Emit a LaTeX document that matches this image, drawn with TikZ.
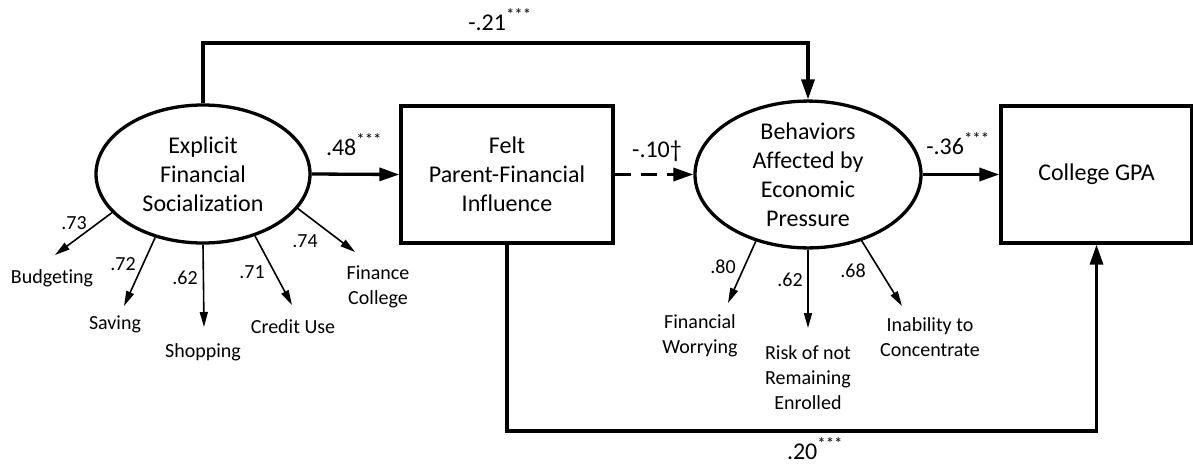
\documentclass[tikz,border=0pt]{standalone}
\usepackage{fontspec}
\setmainfont{Carlito}[Ligatures={NoCommon}]
\usetikzlibrary{arrows.meta,shapes.geometric}
\begin{document}
\begin{tikzpicture}[x=1pt,y=-1pt,
 latent/.style={draw,ellipse,line width=3.3pt,minimum width=214pt,minimum height=138pt,inner sep=0pt,align=center,font=\fontsize{24}{29}\selectfont},
 observed/.style={draw,rectangle,line width=3.3pt,minimum height=137pt,inner sep=0pt,align=center,font=\fontsize{24}{29}\selectfont},
 main/.style={line width=3.3pt,-{Triangle[length=20pt,width=13pt]}},
 ind/.style={line width=1.6pt,-{Triangle[length=15pt,width=8pt]}},
 coef/.style={font=\fontsize{24}{29}\selectfont,inner sep=0pt,anchor=base},
 small/.style={font=\fontsize{20}{25}\selectfont,inner sep=0pt,align=center},
]
\useasboundingbox (0,0) rectangle (1193,466);
% main constructs
\node[latent] (e1) at (203,174) {Explicit\\Financial\\Socialization};
\node[observed,minimum width=212pt] (b1) at (507,174.5) {Felt\\Parent-Financial\\Influence};
\node[latent,minimum width=226pt] (e2) at (808,174.5) {Behaviors\\Affected by\\Economic\\Pressure};
\node[observed,minimum width=191pt] (b2) at (1096.5,174.5) {College GPA};
% structural paths
\coordinate (top) at (500,43);
\coordinate (bot) at (800,431);
\draw[main] (e1.north) |- (top) -| (e2.north);
\draw[main] (e1.east) -- (b1.west);
\draw[main,dash pattern=on 16pt off 10pt] (b1.east) -- (e2.west);
\draw[main] (e2.east) -- (b2.west);
\draw[main] (b1.south) |- (bot) -| (b2.south);
% path coefficients
\node[coef] (c21) at (500,30) {-.21\textsuperscript{***}};
\node[coef] (c48) at (354,155) {.48\textsuperscript{***}};
\node[coef] (c10) at (657,157) {-.10\textdagger};
\node[coef] (c36) at (958,154) {-.36\textsuperscript{***}};
\node[coef] (c20) at (815,459) {.20\textsuperscript{***}};
% indicators of Explicit Financial Socialization
\coordinate (t1) at (55,255);
\coordinate (t2) at (124,306);
\coordinate (t3) at (204,327);
\coordinate (t4) at (292,305);
\coordinate (t5) at (355,252);
\draw[ind] (e1.203) -- (t1);
\draw[ind] (e1.233) -- (t2);
\draw[ind] (e1.270) -- (t3);
\draw[ind] (e1.310) -- (t4);
\draw[ind] (e1.340) -- (t5);
\node[small] (l1) at (74,223) {.73};
\node[small] (l2) at (123,264) {.72};
\node[small] (l3) at (185,278) {.62};
\node[small] (l4) at (252,272) {.71};
\node[small] (l5) at (305,241) {.74};
\node[small] (i1) at (52,278) {Budgeting};
\node[small] (i2) at (115,324) {Saving};
\node[small] (i3) at (203,352) {Shopping};
\node[small] (i4) at (293,327) {Credit Use};
\node[small] (i5) at (378,286.5) {Finance\\College};
% indicators of Behaviors Affected by Economic Pressure
\coordinate (u1) at (728,303);
\coordinate (u2) at (808,328);
\coordinate (u3) at (902,306);
\draw[ind] (e2.232) -- (u1);
\draw[ind] (e2.270) -- (u2);
\draw[ind] (e2.309) -- (u3);
\node[small] (m1) at (723,267) {.80};
\node[small] (m2) at (790,280) {.62};
\node[small] (m3) at (853,271) {.68};
\node[small] (j1) at (700,335.5) {Financial\\Worrying};
\node[small] (j2) at (808,378) {Risk of not\\Remaining\\Enrolled};
\node[small] (j3) at (930,337) {Inability to\\Concentrate};
\end{tikzpicture}
\end{document}
